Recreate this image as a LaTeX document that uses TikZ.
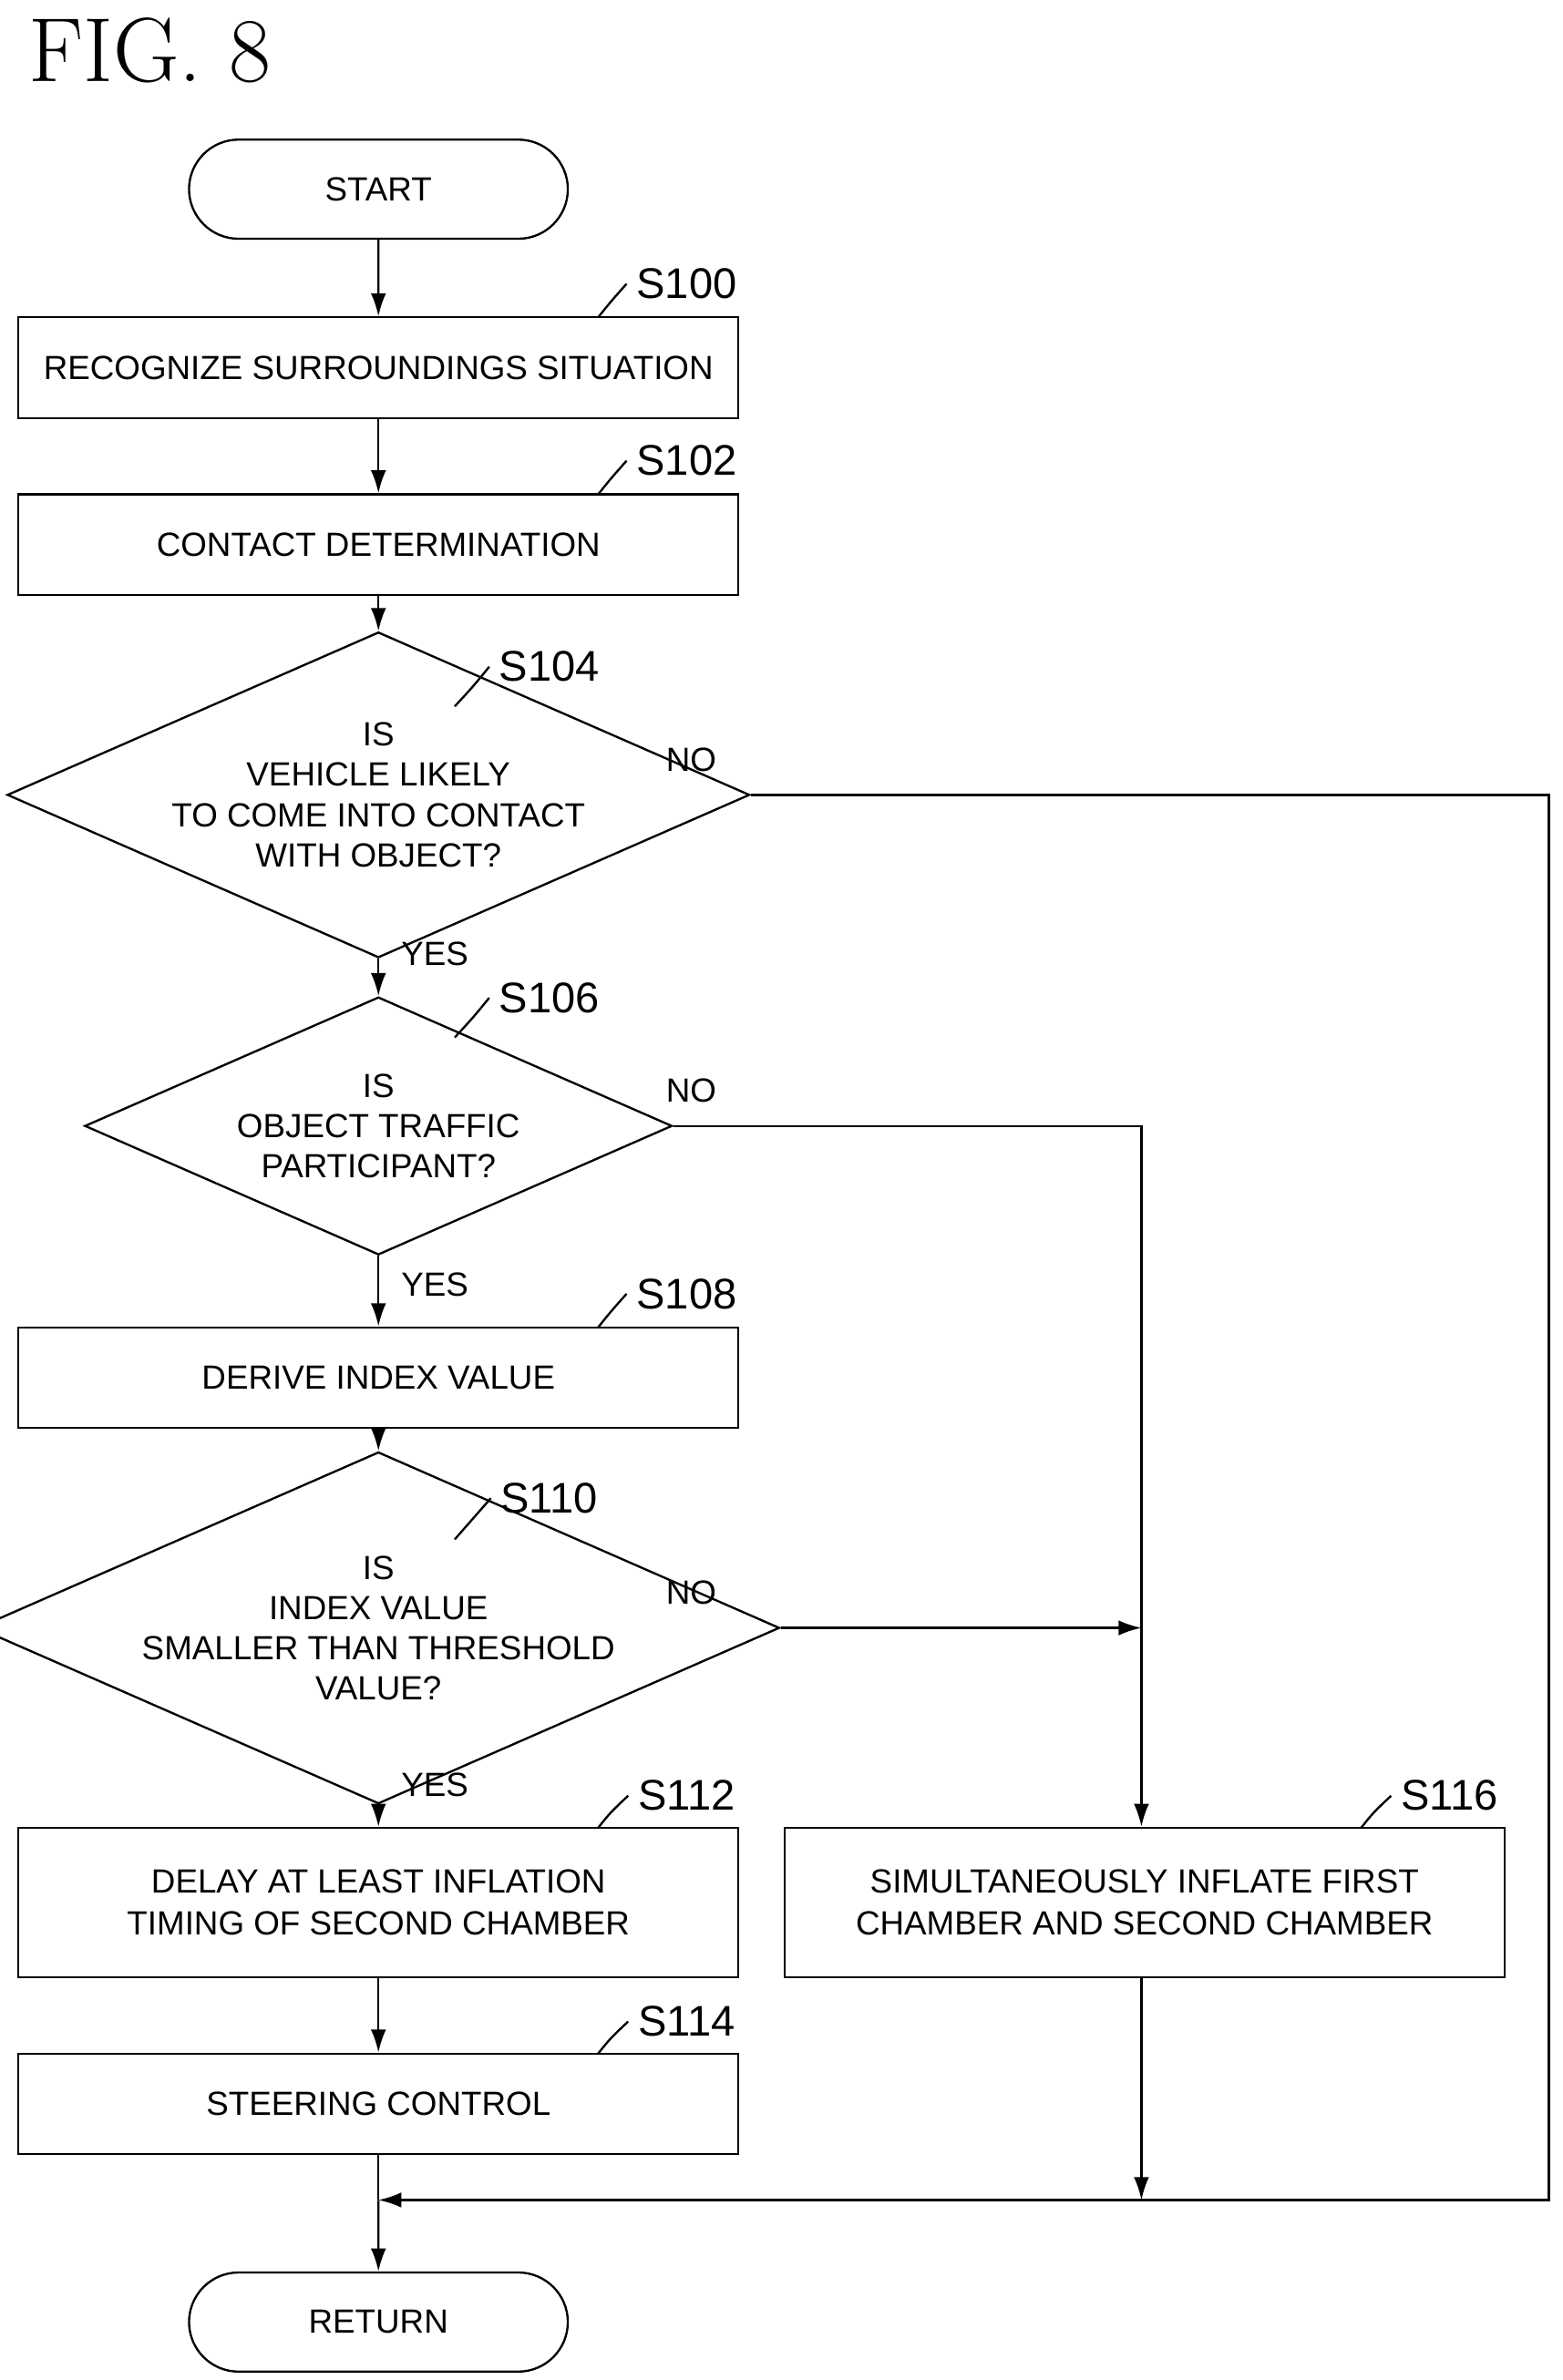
\documentclass[tikz,border=0pt]{standalone}
\usepackage{fontspec}
\setsansfont{Liberation Sans}
\usetikzlibrary{shapes.geometric,shapes.misc,arrows.meta}
\tikzset{
  box/.style={draw,rectangle,minimum width=9.44cm,minimum height=1.32cm,align=center,font=\sffamily\fontsize{12.5}{15.5}\selectfont},
  term/.style={draw,rounded rectangle,minimum width=5.2cm,minimum height=1.3cm,font=\sffamily\fontsize{12.5}{15}\selectfont},
  dec/.style={draw,diamond,aspect=2.28,minimum width=7.7cm,minimum height=3.38cm,inner sep=0pt,align=center,font=\sffamily\fontsize{12.5}{15}\selectfont},
  steplbl/.style={font=\sffamily\fontsize{16}{18}\selectfont},
  lbl/.style={font=\sffamily\fontsize{12.5}{15}\selectfont},
  arr/.style={-{Latex[length=3mm,width=2mm]}}
}
\begin{document}
\begin{tikzpicture}[x=0.02cm,y=-0.02cm,line width=0.8pt]
\useasboundingbox (0,0) rectangle (1024,1560);
\node[anchor=west,font=\fontsize{34}{36}\selectfont] (fig) at (12,33) {FIG.\ 8};

\node[term] (start) at (248,124) {START};
\node[box] (s100) at (248,241) {RECOGNIZE SURROUNDINGS SITUATION};
\node[box] (s102) at (248,357) {CONTACT DETERMINATION};
\node[dec] (s104) at (248,521) {IS\\VEHICLE LIKELY\\TO COME INTO CONTACT\\WITH OBJECT?};
\node[dec] (s106) at (248,738) {IS\\OBJECT TRAFFIC\\PARTICIPANT?};
\node[box] (s108) at (248,903) {DERIVE INDEX VALUE};
\node[dec] (s110) at (248,1067) {IS\\INDEX VALUE\\SMALLER THAN THRESHOLD\\VALUE?};
\node[box,minimum height=1.96cm] (s112) at (248,1247) {DELAY AT LEAST INFLATION\\TIMING OF SECOND CHAMBER};
\node[box,minimum height=1.96cm] (s116) at (750,1247) {SIMULTANEOUSLY INFLATE FIRST\\CHAMBER AND SECOND CHAMBER};
\node[box] (s114) at (248,1379) {STEERING CONTROL};
\node[term] (ret) at (248,1522) {RETURN};

% step labels
\node[steplbl] (l100) at (450,186) {S100};
\node[steplbl] (l102) at (450,302) {S102};
\node[steplbl] (l104) at (360,437) {S104};
\node[steplbl] (l106) at (360,654) {S106};
\node[steplbl] (l108) at (450,848) {S108};
\node[steplbl] (l110) at (360,982) {S110};
\node[steplbl] (l112) at (450,1177) {S112};
\node[steplbl] (l116) at (950,1177) {S116};
\node[steplbl] (l114) at (450,1325) {S114};
\foreach \l/\x/\y in {l100/392/208,l102/392/324,l108/392/870,l112/392/1198,l116/892/1198,l114/392/1346}
  \draw (\l.west) .. controls (\x+8,\y-10) .. (\x,\y);
\draw (l104.west) .. controls (310,450) .. (298,463);
\draw (l106.west) .. controls (310,667) .. (298,680);
\draw (l110.west) .. controls (310,995) .. (298,1009);

% yes / no
\node[lbl] (y1) at (285,625) {YES};
\node[lbl] (y2) at (285,842) {YES};
\node[lbl] (y3) at (285,1170) {YES};
\node[lbl] (n1) at (453,498) {NO};
\node[lbl] (n2) at (453,715) {NO};
\node[lbl] (n3) at (453,1044) {NO};

\coordinate (m1) at (748,1067);
\coordinate (j) at (248,1442);
\coordinate (j2) at (748,1442);

\draw[arr] (start) -- (s100);
\draw[arr] (s100) -- (s102);
\draw[arr] (s102) -- (s104);
\draw[arr] (s104) -- (s106);
\draw[arr] (s106) -- (s108);
\draw[arr] (s108) -- (s110);
\draw[arr] (s110) -- (s112);
\draw[arr] (s112) -- (s114);
\draw (s114) -- (j);
\draw[arr] (j) -- (ret);
\draw[arr] (s104.east) -- (1015,521) -- (1015,1442) -- (j);
\draw[arr] (s106.east) -- (748,738) -- (s116.north -| m1);
\draw[arr] (s110.east) -- (m1);
\draw[arr] (s116.south -| j2) -- (j2);
\end{tikzpicture}
\end{document}
